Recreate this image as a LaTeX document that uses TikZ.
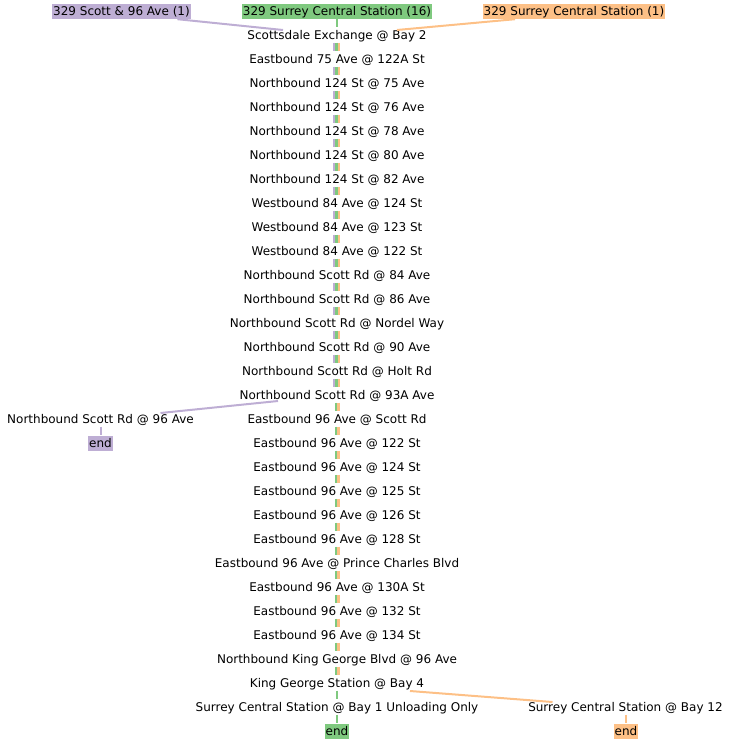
\documentclass[tikz,border=0pt]{standalone}
\usepackage{fontspec}
\setmainfont{DejaVu Sans}
\definecolor{cP}{HTML}{BEAED4}
\definecolor{cG}{HTML}{7FC97F}
\definecolor{cO}{HTML}{FDC086}
\begin{document}
\begin{tikzpicture}[x=1pt,y=-1pt,
  stop/.style={font=\fontsize{12}{14}\selectfont, inner xsep=1pt, inner ysep=1.25pt, text height=10.5pt, text depth=2pt},
  hdr/.style={stop, fill=#1},
  seg/.style={line width=2.3pt},
  link/.style={line width=2pt}]
\useasboundingbox (0,0) rectangle (731,744);
% headers
\node[hdr=cP] (hP) at (121.5,11.5) {329 Scott \& 96 Ave (1)};
\node[hdr=cG] (hG) at (337,11.5) {329 Surrey Central Station (16)};
\node[hdr=cO] (hO) at (574,11.5) {329 Surrey Central Station (1)};
% stops
\foreach \t [count=\i from 0] in {
  Scottsdale Exchange @ Bay 2,
  Eastbound 75 Ave @ 122A St,
  Northbound 124 St @ 75 Ave,
  Northbound 124 St @ 76 Ave,
  Northbound 124 St @ 78 Ave,
  Northbound 124 St @ 80 Ave,
  Northbound 124 St @ 82 Ave,
  Westbound 84 Ave @ 124 St,
  Westbound 84 Ave @ 123 St,
  Westbound 84 Ave @ 122 St,
  Northbound Scott Rd @ 84 Ave,
  Northbound Scott Rd @ 86 Ave,
  Northbound Scott Rd @ Nordel Way,
  Northbound Scott Rd @ 90 Ave,
  Northbound Scott Rd @ Holt Rd,
  Northbound Scott Rd @ 93A Ave,
  Eastbound 96 Ave @ Scott Rd,
  Eastbound 96 Ave @ 122 St,
  Eastbound 96 Ave @ 124 St,
  Eastbound 96 Ave @ 125 St,
  Eastbound 96 Ave @ 126 St,
  Eastbound 96 Ave @ 128 St,
  Eastbound 96 Ave @ Prince Charles Blvd,
  Eastbound 96 Ave @ 130A St,
  Eastbound 96 Ave @ 132 St,
  Eastbound 96 Ave @ 134 St,
  Northbound King George Blvd @ 96 Ave,
  King George Station @ Bay 4,
  Surrey Central Station @ Bay 1 Unloading Only}
  \node[stop] (s\i) at (337,{35+24*\i}) {\t};
% side branches
\node[stop] (w96) at (100.5,419) {Northbound Scott Rd @ 96 Ave};
\node[hdr=cP] (eP) at (100.5,443) {end};
\node[stop] (b12) at (625.5,707) {Surrey Central Station @ Bay 12};
\node[hdr=cO] (eO) at (626,731) {end};
\node[hdr=cG] (eG) at (337,731) {end};
% three-line segments
\foreach \i in {0,...,14}{
  \pgfmathtruncatemacro{\j}{\i+1}
  \draw[seg,cP] ([xshift=-2.8pt]s\i.south) -- ([xshift=-2.8pt]s\j.north);
  \draw[seg,cG] ([xshift=-0.5pt]s\i.south) -- ([xshift=-0.5pt]s\j.north);
  \draw[seg,cO] ([xshift=1.8pt]s\i.south) -- ([xshift=1.8pt]s\j.north);
}
% two-line segments
\foreach \i in {15,...,26}{
  \pgfmathtruncatemacro{\j}{\i+1}
  \draw[seg,cG] ([xshift=-1.3pt]s\i.south) -- ([xshift=-1.3pt]s\j.north);
  \draw[seg,cO] ([xshift=1.5pt]s\i.south) -- ([xshift=1.5pt]s\j.north);
}
% single green
\draw[link,cG] (s27.south) -- (s28.north);
% header links
\draw[link,cG] (hG) -- (s0);
\draw[link,cP] ([xshift=56pt]hP.south) -- ([xshift=-54pt,yshift=5pt]s0.center);
\draw[link,cO] ([xshift=-59pt]hO.south) -- ([xshift=60pt,yshift=5pt]s0.center);
% branches
\draw[link,cP] ([xshift=-59pt,yshift=-6pt]s15.center) -- ([xshift=60pt,yshift=6pt]w96.center);
\draw[link,cO] ([xshift=73pt,yshift=-8pt]s27.center) -- ([xshift=-73pt,yshift=5pt]b12.center);
% ends
\draw[link,cP] (w96) -- (eP);
\draw[link,cO] (b12.south -| eO) -- (eO);
\draw[link,cG] (s28) -- (eG);
\end{tikzpicture}
\end{document}
